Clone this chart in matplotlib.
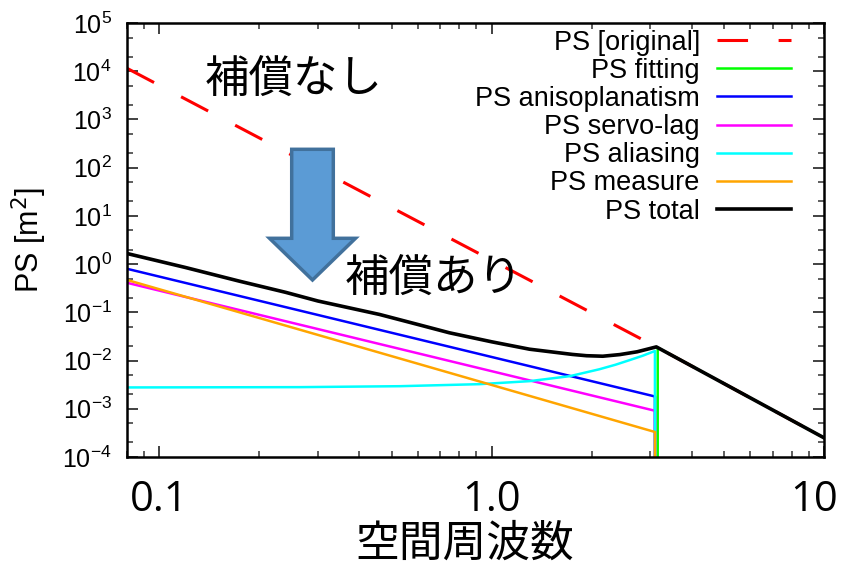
import matplotlib
matplotlib.use("Agg")
import matplotlib.pyplot as plt
import matplotlib.transforms as mtransforms
from matplotlib.patches import FancyArrow
from matplotlib.ticker import LogLocator, NullFormatter

plt.rcParams["font.family"] = ["Liberation Sans", "DejaVu Sans"]
jp_font = ["Noto Sans CJK JP", "DejaVu Sans"]
num_font = ["Open Sans", "DejaVu Sans"]

# values (spatial frequency vs power spectrum)
freq_orig = [0.08, 3.13, 10]
ps_orig = [1.15e4, 0.0192, 2.5e-4]

freq_fit = [3.16, 3.16, 10]
ps_fit = [1e-6, 0.0186, 2.5e-4]

freq_comp = [0.08, 3.10, 3.10]
ps_aniso = [0.80, 1.8e-3, 1e-6]
ps_servo = [0.41, 9.1e-4, 1e-6]
ps_meas = [0.47, 3.3e-4, 1e-6]

freq_alias = [0.08, 0.264, 0.53, 0.92, 1.30, 1.72, 2.11, 2.36, 2.60, 2.85, 3.10, 3.10]
ps_alias = [2.77e-3, 2.81e-3, 2.94e-3, 3.24e-3, 3.74e-3, 4.75e-3, 6.6e-3,
            8.2e-3, 0.0102, 0.0126, 0.0158, 1e-6]

freq_total = [0.08, 0.12, 0.174, 0.24, 0.30, 0.46, 0.60, 0.746, 1.0, 1.30,
              1.53, 1.75, 1.93, 2.16, 2.43, 2.74, 3.13, 10]
ps_total = [1.66, 0.85, 0.444, 0.26, 0.172, 0.0904, 0.056, 0.0377, 0.0245,
            0.0172, 0.0150, 0.0134, 0.0126, 0.0123, 0.0133, 0.0152, 0.0192, 2.5e-4]

xtick_vals = [0.1, 1.0, 10]
xtick_labels = ["0.1", "1.0", "10"]

W, H = 841, 567
fig = plt.figure(figsize=(W / 100, H / 100), dpi=100)
ax = fig.add_axes([127 / W, 1 - 457 / H, (824 - 127) / W, 434 / H])

ax.plot(freq_orig, ps_orig, color="red", lw=2.2, dashes=(10, 10), label="PS [original]")
ax.plot(freq_fit, ps_fit, color="#00ff00", lw=1.8, label="PS fitting")
ax.plot(freq_comp, ps_aniso, color="#0000ff", lw=1.8, label="PS anisoplanatism")
ax.plot(freq_comp, ps_servo, color="#ff00ff", lw=1.8, label="PS servo-lag")
ax.plot(freq_alias, ps_alias, color="#00ffff", lw=1.8, label="PS aliasing")
ax.plot(freq_comp, ps_meas, color="#ffa500", lw=1.8, label="PS measure")
ax.plot(freq_total, ps_total, color="black", lw=2.6, label="PS total")

ax.set_xscale("log")
ax.set_yscale("log")
ax.set_xlim(0.08, 10)
ax.set_ylim(1e-4, 1e5)

ax.yaxis.set_major_locator(LogLocator(base=10, numticks=20))
ax.yaxis.set_minor_locator(LogLocator(base=10, subs=(2, 5), numticks=50))
ax.yaxis.set_minor_formatter(NullFormatter())
ax.xaxis.set_minor_locator(LogLocator(base=10, subs=range(2, 10), numticks=50))
ax.xaxis.set_minor_formatter(NullFormatter())
ax.set_xticks(xtick_vals, labels=xtick_labels)

ax.tick_params(which="both", direction="in", top=True, right=True, color="#333333")
ax.tick_params(which="major", length=8, width=1.3)
ax.tick_params(which="minor", length=4.5, width=1.1)
ax.tick_params(axis="y", labelsize=18, pad=11)
ax.tick_params(axis="x", pad=16)
for lbl in ax.get_xticklabels():
    lbl.set_fontfamily(num_font)
    lbl.set_fontsize(30)
for sp in ax.spines.values():
    sp.set_linewidth(1.8)

ax.set_ylabel("PS [m$^2$]", fontsize=22)
ax.yaxis.set_label_coords(-0.112, 0.5)
ax.set_xlabel("空間周波数", family=jp_font, fontsize=31.5)
ax.xaxis.set_label_coords(0.485, -0.146)

# markerfirst=False already right-aligns the labels against the samples
ax.legend(loc="upper right", bbox_to_anchor=(0.952, 0.985), frameon=False,
          markerfirst=False, fontsize=19.5, handlelength=2.7,
          handletextpad=0.65, labelspacing=0.08, borderpad=0,
          borderaxespad=0)

# annotations added on top of the plot
fig.text(293.5 / W, 1 - 78.5 / H, "補償なし", family=jp_font, fontsize=32,
         ha="center", va="center")
fig.text(434 / W, 1 - 277.5 / H, "補償あり", family=jp_font, fontsize=32,
         ha="center", va="center")
arrow = FancyArrow(312.5 / W, 1 - 149.3 / H, 0, -(280 - 149.3) / H,
                   width=41.6 / W, head_width=86 / W, head_length=41.7 / H,
                   length_includes_head=True, transform=fig.transFigure,
                   facecolor="#5B9BD5", edgecolor="#41719C", lw=2.5)
fig.add_artist(arrow)

# last x label sits a little left of its tick
fig.canvas.draw()
last = ax.get_xticklabels()[-1]
last.set_transform(last.get_transform()
                   + mtransforms.ScaledTranslation(-7 / 72, 0, fig.dpi_scale_trans))

fig.savefig("out.png", dpi=100)
